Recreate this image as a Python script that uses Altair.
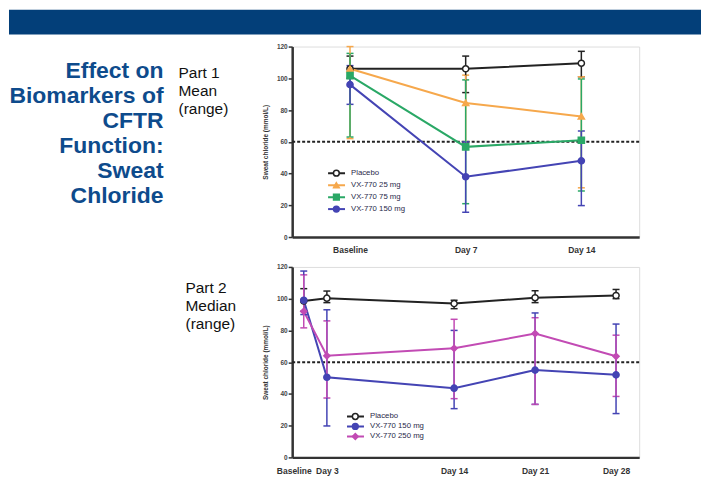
import altair as alt
import pandas as pd

FONT = "Liberation Sans"

# ---------------- Part 1: mean (range) ----------------
p1_times = ["Baseline", "Day 7", "Day 14"]
p1_groups = ["Placebo", "VX-770 25 mg", "VX-770 75 mg", "VX-770 150 mg"]
p1_placebo_mean = [106, 106, 109.5]
p1_placebo_lo = [100, 91, 101]
p1_placebo_hi = [114, 114, 117]
p1_25_mean = [106, 84.5, 76]
p1_25_lo = [62, 57, 31]
p1_25_hi = [120, 102, 101]
p1_75_mean = [101.7, 56.8, 61]
p1_75_lo = [63, 21, 29]
p1_75_hi = [115.7, 99, 99.6]
p1_150_mean = [96, 38, 48]
p1_150_lo = [83.6, 15.6, 19.8]
p1_150_hi = [108, 60, 66.8]

# ---------------- Part 2: median (range) ----------------
p2_days = [1, 3, 14, 21, 28]
p2_groups = ["Placebo", "VX-770 150 mg", "VX-770 250 mg"]
p2_placebo_med = [98.5, 100.3, 96.9, 100.6, 102]
p2_placebo_lo = [92, 97.5, 93.7, 97.5, 100]
p2_placebo_hi = [106.3, 104.8, 99, 105, 105.8]
p2_150_med = [99, 50.5, 43.6, 55, 52]
p2_150_lo = [90, 19.8, 30.7, 33.4, 27.6]
p2_150_hi = [117.4, 93, 80, 91, 84]
p2_250_med = [92, 64, 68.7, 78, 63.7]
p2_250_lo = [81.6, 37.4, 37, 33.4, 38.4]
p2_250_hi = [115, 86, 87, 88, 77]

ref_line = [60]
y_ticks = [0, 20, 40, 60, 80, 100, 120]

title_lines = ["Effect on", "Biomarkers of", "CFTR", "Function:", "Sweat", "Chloride"]
part1_lines = ["Part 1", "Mean", "(range)"]
part2_lines = ["Part 2", "Median", "(range)"]

p1_colors = ["#222222", "#f6a84c", "#2aa866", "#4444b4"]
p1_fills = ["#ffffff", "#f6a84c", "#2aa866", "#4444b4"]
p1_shapes = ["circle", "triangle-up", "square", "circle"]
p2_colors = ["#222222", "#4444b4", "#c24bb4"]
p2_fills = ["#ffffff", "#4444b4", "#c24bb4"]
p2_shapes = ["circle", "circle", "diamond"]

# ---------------- tables ----------------
rows1 = []
for g, m, lo, hi in [
    (p1_groups[0], p1_placebo_mean, p1_placebo_lo, p1_placebo_hi),
    (p1_groups[1], p1_25_mean, p1_25_lo, p1_25_hi),
    (p1_groups[2], p1_75_mean, p1_75_lo, p1_75_hi),
    (p1_groups[3], p1_150_mean, p1_150_lo, p1_150_hi),
]:
    for i, t in enumerate(p1_times):
        rows1.append({"group": g, "time": t, "idx": i, "val": m[i], "lo": lo[i], "hi": hi[i]})
df1 = pd.DataFrame(rows1)

rows2 = []
for g, m, lo, hi in [
    (p2_groups[0], p2_placebo_med, p2_placebo_lo, p2_placebo_hi),
    (p2_groups[1], p2_150_med, p2_150_lo, p2_150_hi),
    (p2_groups[2], p2_250_med, p2_250_lo, p2_250_hi),
]:
    for i, d in enumerate(p2_days):
        rows2.append({"group": g, "day": d, "idx": i, "val": m[i], "lo": lo[i], "hi": hi[i]})
df2 = pd.DataFrame(rows2)

one = pd.DataFrame({"a": [0]})
ref_df = pd.DataFrame({"val": ref_line})

YTITLE = "Sweat chloride (mmol/L)"
yscale = alt.Scale(domain=[0, 120], nice=False)
yaxis = alt.Axis(
    title=YTITLE, values=y_ticks, grid=False, domainColor="#333333", domainWidth=2.5,
    tickColor="#333333", tickWidth=1.5, tickSize=4, labelFontSize=6.5, labelFontWeight="bold",
    labelColor="#444444", labelPadding=1, titleFontSize=6.5, titleFontWeight="bold",
    titleColor="#333333", titlePadding=8, labelFont=FONT, titleFont=FONT,
)


def panel(df, xenc, groups, colors, fills, shapes, leg_x, leg_y, row_h):
    y = alt.Y("val:Q", scale=yscale, axis=yaxis)
    base = alt.Chart(df)
    line_legend = alt.Legend(
        values=groups, orient="none", legendX=leg_x, legendY=leg_y, title=None,
        symbolType="stroke", symbolSize=289, symbolStrokeWidth=2, labelFontSize=7.8,
        labelOffset=5, clipHeight=row_h, rowPadding=0, labelColor="#2a2a4a", labelFont=FONT,
    )
    pt_legend = alt.Legend(
        orient="none", legendX=leg_x + 5.3, legendY=leg_y, title=None, labelExpr="''",
        labelFontSize=7.8, clipHeight=row_h, rowPadding=0, symbolStrokeWidth=1.5,
        symbolSize=34, symbolOpacity=1,
    )
    cscale = alt.Scale(domain=groups + ["_"], range=colors + ["#ffffff"])
    lines = base.mark_line(strokeWidth=2).encode(
        x=xenc, y=y, order="idx:Q",
        color=alt.Color("group:N", scale=cscale, legend=line_legend),
    )
    err = base.mark_errorbar(ticks={"size": 7, "opacity": 1}, thickness=1.5).encode(
        x=xenc, y=alt.Y("lo:Q", scale=yscale, axis=yaxis), y2="hi:Q",
        color=alt.Color("group:N", scale=cscale, legend=None),
    )
    pts = base.mark_point(filled=True, size=38, strokeWidth=1.5, opacity=1).encode(
        x=xenc, y=y,
        fill=alt.Fill("group:N", scale=alt.Scale(domain=groups, range=fills), legend=pt_legend),
        stroke=alt.Stroke("group:N", scale=alt.Scale(domain=groups, range=colors), legend=pt_legend),
        shape=alt.Shape("group:N", scale=alt.Scale(domain=groups, range=shapes), legend=pt_legend),
    )
    rule = alt.Chart(ref_df).mark_rule(strokeDash=[3, 2], strokeWidth=2, color="#222222").encode(y=y)
    return [rule, lines, err, pts]


x1 = alt.X(
    "time:N", sort=p1_times, scale=alt.Scale(type="point", padding=0.5),
    axis=alt.Axis(title=None, labelAngle=0, ticks=False, domainColor="#333333", domainWidth=2.5,
                  labelFontSize=8.5, labelFontWeight="bold", labelColor="#333333",
                  labelPadding=9, labelFont=FONT),
)
x2 = alt.X(
    "day:Q", scale=alt.Scale(domain=[0, 30], nice=False),
    axis=alt.Axis(title=None, values=p2_days, grid=False, ticks=False, domainColor="#333333",
                  domainWidth=2.5, labelFontSize=8.5, labelFontWeight="bold",
                  labelColor="#333333", labelPadding=9, labelFont=FONT,
                  labelExpr="datum.value == 1 ? 'Baseline' : 'Day ' + datum.value",
                  labelOffset={"condition": {"test": "datum.value == 1", "value": -10}, "value": 0}),
)

W, H = 348, 191

header = alt.Chart(one).mark_rect(color="#033f79").encode(
    x=alt.value(-284), x2=alt.value(410), y=alt.value(-37), y2=alt.value(-12)
)
title = alt.Chart(one).mark_text(
    text=title_lines, align="right", baseline="alphabetic", fontSize=23, fontWeight="bold",
    lineHeight=25, color="#0e4b8c", font=FONT,
).encode(x=alt.value(-129), y=alt.value(32))
part1 = alt.Chart(one).mark_text(
    text=part1_lines, align="left", baseline="alphabetic", fontSize=15.5,
    lineHeight=18, color="#111111", font=FONT,
).encode(x=alt.value(-114), y=alt.value(32))
part2 = alt.Chart(one).mark_text(
    text=part2_lines, align="left", baseline="alphabetic", fontSize=15.5,
    lineHeight=18, color="#111111", font=FONT,
).encode(x=alt.value(-107), y=alt.value(26))

top = alt.layer(
    header, title, part1,
    *panel(df1, x1, p1_groups, p1_colors, p1_fills, p1_shapes, 35, 121, 12),
).properties(width=W, height=H)

bottom = alt.layer(
    part2,
    *panel(df2, x2, p2_groups, p2_colors, p2_fills, p2_shapes, 54, 145, 10),
).properties(width=W, height=H)

chart = alt.vconcat(top, bottom, spacing=30, bounds="flush").resolve_scale(
    color="independent", fill="independent", stroke="independent", shape="independent"
).resolve_legend(
    color="independent", fill="independent", stroke="independent", shape="independent"
).properties(padding=0, background="white").configure_view(stroke=None).configure(font=FONT)

chart.save("out.html", embed_options={"renderer": "svg", "actions": False})
